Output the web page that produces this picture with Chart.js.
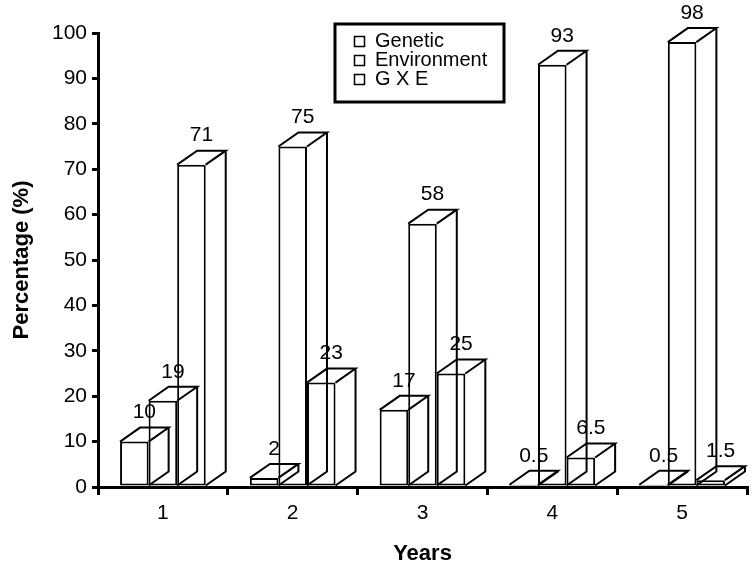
<!DOCTYPE html>
<html>
<head>
<meta charset="utf-8">
<script src="https://cdn.jsdelivr.net/npm/chart.js@4/dist/chart.umd.min.js"></script>
<style>
  html, body { margin: 0; padding: 0; background: #fff; }
  #wrap { width: 752px; height: 565px; position: relative; }
</style>
</head>
<body>
<div id="wrap"><canvas id="chart"></canvas></div>
<script>
// Variance components per year (%)
const years = ['1', '2', '3', '4', '5'];
const seriesNames = ['Genetic', 'Environment', 'G X E'];
const genetic = [10, 2, 17, 0.5, 0.5];
const environment = [19, 75, 58, 93, 98];
const gxe = [71, 23, 25, 6.5, 1.5];
const yTicks = [0, 10, 20, 30, 40, 50, 60, 70, 80, 90, 100];

const FONT = "'Liberation Sans', Arial, sans-serif";
const DEPTH_X = 20;
const DEPTH_Y = 14;

Chart.defaults.font.family = FONT;
Chart.defaults.color = '#000';

// Draws the top and side faces of every bar as an outline, then its value.
const boxes3d = {
  id: 'boxes3d',
  afterDatasetsDraw(chart) {
    const ctx = chart.ctx;
    ctx.save();
    ctx.strokeStyle = '#000';
    ctx.lineWidth = 2;
    ctx.lineJoin = 'miter';
    chart.data.datasets.forEach((ds, di) => {
      const meta = chart.getDatasetMeta(di);
      meta.data.forEach((bar, i) => {
        const p = bar.getProps(['x', 'y', 'base', 'width'], true);
        const l = p.x - p.width / 2, r = p.x + p.width / 2;
        const t = p.y, b = p.base;
        ctx.beginPath();
        // top face
        ctx.moveTo(l, t);
        ctx.lineTo(l + DEPTH_X, t - DEPTH_Y);
        ctx.lineTo(r + DEPTH_X, t - DEPTH_Y);
        ctx.lineTo(r, t);
        // side face
        ctx.moveTo(r + DEPTH_X, t - DEPTH_Y);
        ctx.lineTo(r + DEPTH_X, b - DEPTH_Y);
        ctx.lineTo(r, b);
        ctx.stroke();
      });
    });
    ctx.fillStyle = '#000';
    ctx.font = '21px ' + FONT;
    ctx.textAlign = 'center';
    ctx.textBaseline = 'middle';
    chart.data.datasets.forEach((ds, di) => {
      const meta = chart.getDatasetMeta(di);
      meta.data.forEach((bar, i) => {
        const p = bar.getProps(['x', 'y'], true);
        ctx.fillText(String(ds.data[i]), p.x + DEPTH_X / 2, p.y - DEPTH_Y - 15);
      });
    });
    ctx.restore();
  },
  afterDraw(chart) {
    // boxed legend near the top of the plot
    const ctx = chart.ctx;
    const a = chart.chartArea;
    const bx = a.left + 237, by = a.top - 9, bw = 169, bh = 78;
    ctx.save();
    ctx.strokeStyle = '#000';
    ctx.lineWidth = 3;
    ctx.strokeRect(bx, by, bw, bh);
    ctx.font = '20px ' + FONT;
    ctx.textAlign = 'left';
    ctx.textBaseline = 'alphabetic';
    ctx.lineWidth = 1.5;
    chart.data.datasets.forEach((ds, di) => {
      const base = by + 23 + di * 19;
      ctx.strokeRect(bx + 19.5, base - 10.5, 10, 10);
      ctx.fillText(ds.label, bx + 40, base);
    });
    ctx.restore();
  }
};

const bar = (label, data) => ({
  label, data,
  backgroundColor: '#fff',
  borderColor: '#000',
  borderWidth: 2,
  borderSkipped: false,
  categoryPercentage: 0.66,
  barPercentage: 1.0
});

new Chart(document.getElementById('chart'), {
  type: 'bar',
  data: {
    labels: years,
    datasets: [
      bar(seriesNames[0], genetic),
      bar(seriesNames[1], environment),
      bar(seriesNames[2], gxe)
    ]
  },
  options: {
    responsive: true,
    maintainAspectRatio: false,
    animation: false,
    layout: { padding: { top: 33, right: 5, left: 0, bottom: 0 } },
    plugins: { legend: { display: false }, tooltip: { enabled: false } },
    scales: {
      x: {
        offset: true,
        grid: {
          offset: true,
          drawOnChartArea: false,
          color: '#000',
          lineWidth: 3,
          tickLength: 8
        },
        border: { color: '#000', width: 3 },
        ticks: { font: { size: 21 }, padding: 6, color: '#000' },
        title: {
          display: true,
          text: 'Years',
          font: { size: 22, weight: 'bold', lineHeight: 1 },
          padding: { top: 0, bottom: 0 },
          color: '#000'
        },
        afterFit(scale) { scale.height = 78; }
      },
      y: {
        min: 0,
        max: 100,
        afterBuildTicks(scale) { scale.ticks = yTicks.map(v => ({ value: v })); },
        grid: {
          drawOnChartArea: false,
          color: '#000',
          lineWidth: 3,
          tickLength: 6
        },
        border: { color: '#000', width: 3 },
        ticks: { font: { size: 21 }, padding: 5, color: '#000' },
        title: {
          display: true,
          text: 'Percentage (%)',
          font: { size: 22, weight: 'bold', lineHeight: 1 },
          padding: { top: 11, bottom: 0 },
          color: '#000'
        },
        afterFit(scale) { scale.width = 98; }
      }
    }
  },
  plugins: [boxes3d]
});
</script>
</body>
</html>
